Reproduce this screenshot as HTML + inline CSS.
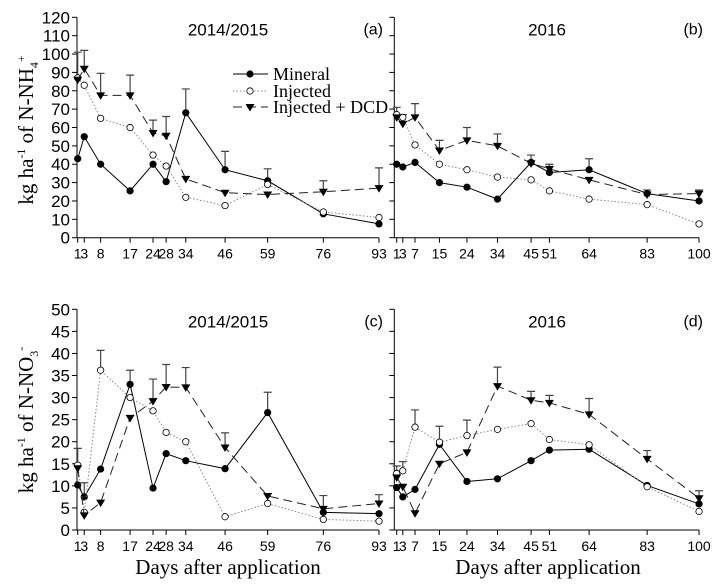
<!DOCTYPE html>
<html><head><meta charset="utf-8">
<style>
html,body{margin:0;padding:0;background:#fff;}
svg{display:block;font-family:"Liberation Sans",Arial,sans-serif;}
.ser{font-family:"Liberation Serif","Times New Roman",serif;}
</style></head>
<body>
<svg id="chart" width="721" height="584" viewBox="0 0 721 584" xmlns="http://www.w3.org/2000/svg"></svg>
<script>
// ---- data ----
const daysA = [1,3,8,17,24,28,34,46,59,76,93];
const daysB = [1,3,7,15,24,34,45,51,64,83,100];
const ticksTop = [0,10,20,30,40,50,60,70,80,90,100,110,120];
const ticksBot = [0,5,10,15,20,25,30,35,40,45,50];

const nh4A_mineral = [43,55,40,25.5,40,30.5,68,37,31,13,7.5];
const nh4A_injected = [87,83,65,60,45,39,22,17.5,29,14,11];
const nh4A_dcd = [86,92,77.5,77.5,57,55.5,32,24.5,23.5,25,27];
const nh4A_mineralErr = [0,0,0,0,0,0,13,10,6.5,0,0];
const nh4A_injectedErr = [0,0,0,0,0,0,0,0,0,0,0];
const nh4A_dcdErr = [15,10,12,11,7,10.5,0,0,0,6,11];

const nh4B_mineral = [40,38.5,41,30,27.5,21,41,35.5,37,24,20];
const nh4B_injected = [67,65.5,50.5,40,37,33,31.5,25.5,21,18,7.5];
const nh4B_dcd = [65.5,62,65.5,47.5,53,50,40.5,37.5,31.5,23.5,24];
const nh4B_mineralErr = [0,0,0,0,0,0,0,0,6,0,0];
const nh4B_injectedErr = [0,1.5,0,0,0,0,0,0,0,0,0];
const nh4B_dcdErr = [5.5,0,7.5,5.5,7,6.5,4.5,2.5,0,2.5,2];

const no3A_mineral = [10.2,7.5,13.8,33,9.5,17.3,15.7,13.9,26.6,4,3.7];
const no3A_injected = [14.7,4,36.2,30,27,22.1,20,3,6,2.4,2];
const no3A_dcd = [14,3.3,6.2,25.4,29.2,32.4,32.3,18.7,7.7,4.8,6];
const no3A_mineralErr = [0,3.2,0,3.2,0,0,0,0,4.6,0,0];
const no3A_injectedErr = [3.8,0,4.5,0,0,0,0,0,0,0,0];
const no3A_dcdErr = [0,0,0,0,5,5.1,4.5,3.3,0,3,2];

const no3B_mineral = [9.6,7.5,9.2,19.4,11,11.6,15.7,18.1,18.3,10.1,5.9];
const no3B_injected = [12.8,13.4,23.3,19.9,21.4,22.8,24.1,20.5,19.3,9.8,4.2];
const no3B_dcd = [11.9,9.8,3.8,15,17.6,32.6,29.4,28.8,26.2,16.1,7.2];
const no3B_mineralErr = [0,0,0,0,0,0,0,0,0,0,0];
const no3B_injectedErr = [1.7,2.1,3.9,3.6,3.5,0,0,0,0,0,0];
const no3B_dcdErr = [0,0,0,0,0,4.3,2,1.7,3.6,1.9,1.7];

// ---- drawing ----
const NS = "http://www.w3.org/2000/svg";
const svg = document.getElementById("chart");
function mk(tag, attrs, parent){
  const e = document.createElementNS(NS, tag);
  for (const k in attrs) e.setAttribute(k, attrs[k]);
  (parent||svg).appendChild(e);
  return e;
}

function panel(cfg){
  const g = mk("g", {});
  
  
  const xs = d => cfg.x1 + (d - cfg.d1) * cfg.xk;
  const ys = v => cfg.y0 - v * cfg.yk;
  const yTop = ys(cfg.ticks[cfg.ticks.length-1]);
  const ya = mk("line", {x1:cfg.ax, y1:cfg.y0, x2:cfg.ax, y2:yTop, stroke:"#000", "stroke-width":1}, g);
  
  
  cfg.ticks.forEach(t => {
    mk("line", {x1:cfg.ax-5, y1:ys(t), x2:cfg.ax, y2:ys(t), stroke:"#000"}, g);
    if (cfg.labels){
      const tx = mk("text", {x:cfg.ax-7, y:ys(t)+6, "text-anchor":"end", "font-size":17}, g);
      tx.textContent = t;
      
      
    }
  });
  const xa = mk("line", {x1:cfg.ax, y1:cfg.y0, x2:xs(cfg.days[cfg.days.length-1]), y2:cfg.y0, stroke:"#000"}, g);
  
  
  cfg.days.forEach(d => {
    mk("line", {x1:xs(d), y1:cfg.y0, x2:xs(d), y2:cfg.y0+5, stroke:"#000"}, g);
    const tx = mk("text", {x:xs(d), y:cfg.y0+21, "text-anchor":"middle", "font-size":14}, g);
    tx.textContent = d;
    
    
  });
  const tt = mk("text", {x:cfg.tx, y:yTop+18, "text-anchor":"middle", "font-size":17}, g);
  tt.textContent = cfg.title;
  
  
  const tl = mk("text", {x:cfg.lx, y:yTop+17, "text-anchor":"end", "font-size":16}, g);
  tl.textContent = cfg.letter;
  
  

  const series = [
    {n:"mineral", v:cfg.min, e:cfg.minE, dash:null, col:"#000", w:1},
    {n:"injected", v:cfg.inj, e:cfg.injE, dash:"1.5 2", col:"#888", w:1},
    {n:"injected-dcd", v:cfg.dcd, e:cfg.dcdE, dash:"9 5", col:"#222", w:1}
  ];
  series.forEach(s => {
    s.e.forEach((e,i) => {
      if (!e) return;
      const x = xs(cfg.days[i]), y1 = ys(s.v[i]), y2 = ys(s.v[i]+e);
      const eb = mk("path", {d:`M${x},${y1}V${y2}M${x-4},${y2}H${x+4}`, stroke:"#444", "stroke-width":1.2, fill:"none"}, g);
      
      
    });
  });
  series.forEach(s => {
    const pts = s.v.map((v,i) => xs(cfg.days[i]) + "," + ys(v)).join(" ");
    const pl = mk("polyline", {points:pts, fill:"none", stroke:s.col, "stroke-width":s.w}, g);
    if (s.dash) pl.setAttribute("stroke-dasharray", s.dash);
    
    
    s.v.forEach((v,i) => {
      const x = xs(cfg.days[i]), y = ys(v);
      let m;
      if (s.n === "mineral") m = mk("circle", {cx:x, cy:y, r:3.6, fill:"#000"}, g);
      else if (s.n === "injected") m = mk("circle", {cx:x, cy:y, r:3.2, fill:"#fff", stroke:"#000", "stroke-width":0.8}, g);
      else m = mk("path", {d:`M${x-4.5},${y-3}H${x+4.5}L${x},${y+4.5}Z`, fill:"#000"}, g);
      
      
    });
  });
}

const topY0 = 237.7, topK = 220.4/120;
const botY0 = 530, botK = 220.7/50;
panel({name:"panel-a", days:daysA, d1:1, x1:77.7, xk:3.275, ax:77, y0:topY0, yk:topK, ticks:ticksTop, labels:true,
  title:"2014/2015", tx:228, letter:"(a)", lx:383, min:nh4A_mineral, inj:nh4A_injected, dcd:nh4A_dcd,
  minE:nh4A_mineralErr, injE:nh4A_injectedErr, dcdE:nh4A_dcdErr});
panel({name:"panel-b", days:daysB, d1:1, x1:396.7, xk:3.054, ax:394.3, y0:topY0, yk:topK, ticks:ticksTop, labels:false,
  title:"2016", tx:547, letter:"(b)", lx:703, min:nh4B_mineral, inj:nh4B_injected, dcd:nh4B_dcd,
  minE:nh4B_mineralErr, injE:nh4B_injectedErr, dcdE:nh4B_dcdErr});
panel({name:"panel-c", days:daysA, d1:1, x1:77.7, xk:3.275, ax:77, y0:botY0, yk:botK, ticks:ticksBot, labels:true,
  title:"2014/2015", tx:228, letter:"(c)", lx:383, min:no3A_mineral, inj:no3A_injected, dcd:no3A_dcd,
  minE:no3A_mineralErr, injE:no3A_injectedErr, dcdE:no3A_dcdErr});
panel({name:"panel-d", days:daysB, d1:1, x1:396.7, xk:3.054, ax:394.3, y0:botY0, yk:botK, ticks:ticksBot, labels:false,
  title:"2016", tx:547, letter:"(d)", lx:703, min:no3B_mineral, inj:no3B_injected, dcd:no3B_dcd,
  minE:no3B_mineralErr, injE:no3B_injectedErr, dcdE:no3B_dcdErr});
</script>
<script>
(function(){
  const NS = "http://www.w3.org/2000/svg";
  const svg = document.getElementById("chart");
  const add = (html) => { const g = document.createElementNS(NS,"g"); g.innerHTML = html; svg.appendChild(g); };
  add(`<text class="ser" transform="translate(33,130) rotate(-90)" text-anchor="middle" font-size="21">kg ha<tspan font-size="12" dy="-8">-1</tspan><tspan dy="8"> of N-NH</tspan><tspan font-size="12" dy="5">4</tspan><tspan font-size="12" dy="-13">+</tspan></text>
  <text class="ser" transform="translate(33,420) rotate(-90)" text-anchor="middle" font-size="21">kg ha<tspan font-size="12" dy="-8">-1</tspan><tspan dy="8"> of N-NO</tspan><tspan font-size="12" dy="5">3</tspan><tspan font-size="12" dy="-13">-</tspan></text>
  <text class="ser" x="228" y="574" text-anchor="middle" font-size="21">Days after application</text>
  <text class="ser" x="548" y="574" text-anchor="middle" font-size="21">Days after application</text>
  <g>
    <g>
      <line x1="233" y1="74" x2="268" y2="74" stroke="#000"/><circle cx="250" cy="74" r="3.6" fill="#000"/>
      <text class="ser" x="273" y="80" font-size="18">Mineral</text></g>
    <g>
      <line x1="233" y1="91" x2="268" y2="91" stroke="#888" stroke-dasharray="1.5 2"/><circle cx="250" cy="91" r="3.2" fill="#fff" stroke="#000" stroke-width="0.8"/>
      <text class="ser" x="273" y="97" font-size="18">Injected</text></g>
    <g>
      <line x1="233" y1="107" x2="268" y2="107" stroke="#222" stroke-dasharray="9 5"/><path d="M245.5,104H254.5L250,111.5Z" fill="#000"/>
      <text class="ser" x="273" y="113" font-size="18">Injected + DCD</text></g>
  </g>`);
})();
</script>
</body></html>
